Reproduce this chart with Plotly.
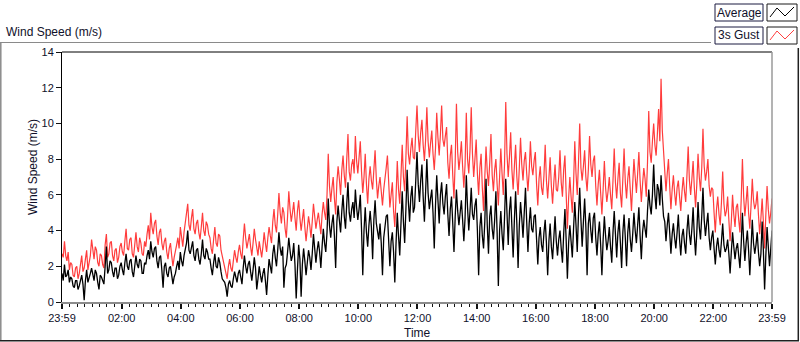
import plotly.graph_objects as go
import pandas as pd

# ---------------- data (2.5-minute samples) ----------------
start_time = "2024-01-01 23:59"
end_time = "2024-01-02 23:59"

gust_3s = [
    # hour 0
    2.7, 2.5, 3.4, 2.6, 2.3, 2.8, 1.8, 2.2, 2.1, 1.5, 1.4, 1.9, 2.0, 1.3, 1.6, 2.1, 2.6, 1.7, 1.9, 2.4, 2.9, 1.8, 2.2, 2.6,
    # hour 1
    3.5, 2.8, 2.4, 3.1, 2.9, 2.2, 2.0, 2.7, 2.6, 2.1, 1.9, 3.2, 3.8, 2.5, 2.7, 3.3, 3.4, 2.6, 2.3, 2.9, 3.0, 2.2, 2.5, 3.1,
    # hour 2
    3.3, 2.8, 2.6, 3.4, 4.1, 3.0, 2.9, 3.5, 3.6, 2.7, 2.5, 3.2, 3.9, 3.1, 2.8, 3.6, 3.3, 2.7, 2.6, 3.4, 3.1, 3.8, 4.3, 3.5,
    # hour 3
    5.0, 4.2, 3.8, 4.4, 4.6, 3.7, 3.2, 3.9, 4.1, 3.3, 2.9, 3.4, 3.6, 2.8, 2.4, 3.0, 3.3, 2.6, 2.0, 2.5, 2.8, 3.2, 3.6, 3.0,
    # hour 4
    4.2, 3.6, 3.1, 3.9, 4.4, 4.8, 5.5, 4.3, 4.0, 4.7, 5.2, 4.1, 3.8, 4.4, 4.6, 3.9, 3.5, 4.2, 5.0, 4.0, 3.7, 4.5, 4.3, 3.8,
    # hour 5
    3.6, 3.0, 2.7, 3.5, 4.2, 3.3, 3.1, 3.8, 3.7, 2.9, 2.6, 2.2, 2.0, 1.6, 1.3, 2.0, 2.4, 1.9, 1.7, 2.3, 2.9, 2.5, 2.2, 2.8,
    # hour 6
    3.2, 2.7, 2.4, 3.5, 4.4, 3.6, 3.0, 3.4, 3.8, 3.1, 2.6, 3.3, 4.1, 3.5, 3.0, 2.6, 3.4, 2.9, 2.5, 3.1, 3.9, 3.3, 2.8, 3.6,
    # hour 7
    4.2, 3.7, 3.3, 4.5, 5.2, 4.3, 3.9, 4.9, 6.1, 5.0, 4.4, 5.3, 5.0, 4.1, 3.6, 4.8, 6.2, 5.2, 4.5, 5.0, 5.6, 4.7, 4.0, 5.1,
    # hour 8
    5.7, 4.7, 4.0, 4.6, 5.2, 4.2, 3.4, 4.1, 4.8, 4.3, 3.6, 4.5, 5.5, 4.8, 4.1, 4.6, 5.0, 4.4, 3.8, 4.9, 5.6, 5.0, 4.6, 6.0,
    # hour 9
    8.3, 6.5, 5.6, 6.4, 7.0, 5.8, 4.9, 6.7, 7.6, 6.9, 6.0, 7.4, 8.2, 7.1, 6.4, 8.0, 9.4, 7.3, 6.8, 7.7, 8.0, 7.2, 9.3, 7.9,
    # hour 10
    7.2, 8.1, 9.0, 7.3, 6.1, 7.0, 8.3, 6.6, 5.5, 6.9, 7.6, 6.8, 6.3, 7.4, 8.5, 6.9, 5.8, 6.5, 7.0, 6.2, 5.4, 6.3, 6.8, 7.5,
    # hour 11
    8.2, 6.4, 5.3, 6.0, 6.7, 5.1, 4.2, 5.9, 7.9, 6.3, 5.5, 7.1, 8.8, 7.0, 6.2, 8.1, 10.4, 8.3, 7.7, 8.6, 9.2, 8.1, 8.0, 9.6,
    # hour 12
    11.0, 9.3, 8.4, 9.5, 10.2, 8.8, 7.9, 9.1, 10.9, 9.0, 8.1, 8.9, 9.6, 8.3, 7.4, 8.6, 10.6, 9.2, 8.2, 9.4, 11.0, 9.1, 8.7, 9.3,
    # hour 13
    9.8, 7.8, 6.9, 8.2, 8.8, 7.1, 5.8, 7.9, 11.1, 8.4, 7.4, 8.1, 9.0, 7.6, 6.4, 7.7, 10.6, 8.0, 7.2, 8.5, 10.9, 8.3, 7.0, 8.0,
    # hour 14
    9.1, 7.2, 6.0, 7.5, 8.3, 6.4, 5.1, 7.0, 8.7, 7.3, 6.5, 7.8, 9.4, 7.1, 6.2, 7.4, 8.0, 6.6, 5.4, 7.0, 8.6, 7.2, 6.0, 7.7,
    # hour 15
    11.2, 8.3, 7.0, 8.1, 9.5, 7.4, 6.3, 7.6, 8.8, 7.0, 6.0, 7.5, 9.2, 7.7, 6.8, 7.9, 8.4, 7.2, 6.2, 7.3, 9.0, 7.6, 7.1, 7.9,
    # hour 16
    8.4, 6.6, 5.4, 6.9, 7.6, 6.4, 6.0, 7.1, 8.8, 6.8, 5.8, 6.9, 8.1, 6.5, 5.5, 6.7, 7.7, 6.3, 6.2, 7.0, 8.5, 6.7, 5.9, 7.4,
    # hour 17
    8.2, 6.1, 4.1, 5.8, 7.0, 5.9, 5.0, 6.6, 9.0, 7.2, 6.0, 7.8, 10.0, 7.5, 6.8, 7.6, 8.5, 7.0, 6.2, 7.4, 9.3, 7.7, 7.0, 7.9,
    # hour 18
    8.2, 6.5, 5.4, 6.6, 7.4, 6.1, 4.9, 6.3, 7.9, 6.4, 5.6, 6.2, 7.0, 6.0, 5.2, 6.8, 8.6, 6.7, 5.8, 6.9, 7.8, 6.1, 5.3, 6.9,
    # hour 19
    8.6, 6.7, 5.8, 6.9, 7.6, 6.3, 5.1, 6.6, 8.0, 7.0, 6.1, 7.2, 8.4, 6.8, 5.6, 6.6, 7.5, 6.9, 5.9, 7.8, 10.7, 8.4, 7.8, 9.0,
    # hour 20
    10.0, 8.8, 8.2, 9.4, 10.8, 9.0, 12.5, 9.6, 8.6, 7.4, 6.2, 7.2, 8.0, 6.5, 5.2, 6.3, 7.1, 6.1, 5.4, 6.4, 6.8, 5.9, 5.1, 6.2,
    # hour 21
    7.0, 6.2, 5.6, 7.1, 8.7, 6.8, 6.0, 6.9, 7.9, 6.4, 5.3, 6.6, 8.3, 7.0, 6.2, 7.5, 9.7, 7.6, 6.8, 7.3, 8.0, 6.5, 5.9, 6.4,
    # hour 22
    6.3, 5.0, 3.9, 5.2, 5.9, 4.9, 4.3, 5.6, 7.3, 5.5, 4.8, 5.1, 5.9, 4.6, 3.4, 4.5, 6.0, 4.9, 4.2, 5.3, 5.5, 4.6, 3.9, 5.7,
    # hour 23
    8.0, 5.9, 4.8, 5.6, 6.5, 5.0, 4.1, 5.4, 6.9, 5.7, 5.2, 5.5, 6.2, 4.9, 3.8, 4.7, 5.8, 4.5, 3.0, 4.9, 6.5, 5.2, 4.4, 5.0,
    5.8,
]

average = [
    # hour 0
    1.6, 1.2, 2.1, 1.4, 1.5, 1.8, 1.1, 1.4, 1.3, 0.9, 0.8, 1.2, 1.2, 0.7, 0.9, 1.3, 1.5, 1.0, 0.1, 1.2, 1.8, 1.1, 1.3, 1.6,
    # hour 1
    1.9, 1.5, 1.2, 1.8, 1.6, 1.1, 0.7, 1.5, 1.4, 1.2, 1.0, 2.0, 3.1, 1.6, 1.8, 2.3, 2.2, 1.7, 1.4, 1.9, 1.9, 1.3, 1.5, 2.0,
    # hour 2
    2.2, 1.8, 1.5, 2.2, 2.7, 2.0, 1.8, 2.3, 2.4, 1.7, 1.4, 2.0, 2.6, 2.1, 1.9, 2.4, 2.3, 1.6, 1.6, 2.2, 2.1, 2.6, 2.9, 2.4,
    # hour 3
    3.4, 2.8, 2.5, 3.0, 3.1, 2.3, 1.9, 2.5, 2.6, 1.8, 0.8, 2.0, 2.2, 1.6, 1.4, 1.9, 2.0, 1.5, 1.0, 1.4, 1.6, 2.0, 2.3, 1.8,
    # hour 4
    2.8, 2.3, 2.0, 2.6, 2.9, 3.3, 4.0, 2.9, 2.7, 3.1, 3.4, 2.6, 2.3, 2.9, 3.0, 2.4, 2.1, 2.7, 3.5, 2.6, 2.4, 3.0, 2.8, 2.4,
    # hour 5
    2.4, 1.9, 1.5, 2.2, 2.7, 2.0, 1.9, 2.5, 2.2, 1.7, 1.3, 1.2, 1.1, 0.8, 0.3, 1.0, 1.2, 0.9, 0.8, 1.3, 1.7, 1.4, 1.1, 1.6,
    # hour 6
    1.8, 1.4, 1.0, 1.9, 2.6, 2.0, 1.6, 2.1, 2.3, 1.7, 1.2, 1.8, 2.5, 1.9, 0.7, 1.3, 2.0, 1.5, 1.1, 1.6, 1.9, 1.2, 0.4, 1.5,
    # hour 7
    2.4, 2.0, 1.6, 2.7, 3.2, 2.5, 2.0, 2.9, 3.9, 3.0, 2.6, 3.1, 0.8, 1.9, 2.1, 2.8, 3.6, 2.9, 2.3, 2.6, 3.3, 2.1, 0.2, 1.8,
    # hour 8
    3.2, 2.4, 0.3, 2.1, 3.0, 2.3, 1.5, 2.2, 2.9, 2.5, 1.8, 2.7, 3.8, 3.0, 2.2, 2.9, 3.4, 2.8, 1.9, 3.1, 4.1, 3.3, 2.8, 3.9,
    # hour 9
    5.8, 4.3, 3.6, 4.4, 4.9, 3.7, 1.9, 4.5, 5.4, 4.6, 3.9, 5.1, 6.0, 4.8, 4.1, 5.5, 6.7, 5.0, 4.5, 5.2, 5.6, 4.7, 6.3, 5.3,
    # hour 10
    4.6, 5.2, 6.0, 4.1, 1.5, 4.0, 5.3, 3.9, 3.1, 4.3, 5.1, 4.2, 2.4, 4.6, 5.7, 4.4, 3.8, 3.5, 4.4, 3.3, 1.5, 3.6, 4.2, 4.8,
    # hour 11
    4.9, 3.6, 2.0, 3.4, 3.9, 2.8, 1.1, 3.3, 5.0, 3.7, 2.6, 4.4, 6.2, 4.5, 3.3, 5.2, 7.4, 5.6, 4.5, 5.9, 6.5, 5.0, 5.3, 6.8,
    # hour 12
    8.4, 6.6, 5.6, 6.8, 7.7, 5.9, 4.5, 6.2, 8.0, 6.1, 5.2, 5.8, 6.3, 5.0, 3.0, 5.4, 7.1, 5.7, 4.4, 6.0, 6.7, 5.5, 4.9, 5.9,
    # hour 13
    6.6, 4.9, 3.7, 5.2, 5.9, 4.4, 2.8, 4.8, 6.3, 5.1, 4.3, 5.0, 5.7, 4.6, 3.4, 4.7, 7.1, 5.3, 4.0, 5.1, 6.4, 4.9, 4.6, 5.4,
    # hour 14
    5.8, 4.0, 1.5, 4.2, 5.0, 3.7, 3.0, 4.5, 6.9, 4.3, 2.7, 4.8, 5.4, 4.1, 3.5, 4.6, 6.2, 3.9, 0.9, 4.0, 5.1, 3.8, 2.9, 4.7,
    # hour 15
    6.9, 5.0, 3.2, 5.1, 5.9, 4.2, 2.5, 4.6, 6.2, 4.4, 1.9, 4.3, 5.6, 4.7, 3.6, 5.0, 6.4, 4.5, 2.8, 4.4, 5.3, 4.1, 3.9, 4.8,
    # hour 16
    4.9, 3.5, 2.1, 3.6, 4.2, 3.2, 2.8, 3.9, 4.6, 3.3, 1.5, 3.4, 4.4, 3.1, 2.4, 3.6, 4.8, 3.4, 2.6, 3.5, 4.0, 3.0, 2.2, 3.8,
    # hour 17
    5.2, 3.5, 1.3, 3.3, 4.3, 3.4, 2.5, 4.1, 5.6, 4.3, 2.8, 4.9, 6.4, 4.6, 3.1, 4.5, 5.8, 4.2, 1.5, 4.4, 5.0, 4.0, 3.3, 4.7,
    # hour 18
    5.0, 3.6, 2.6, 3.8, 4.5, 3.2, 1.5, 3.5, 4.8, 3.7, 2.9, 3.4, 4.2, 3.1, 2.2, 3.9, 5.1, 3.8, 2.5, 3.9, 4.6, 3.3, 1.9, 3.9,
    # hour 19
    4.9, 3.6, 2.0, 3.9, 4.7, 3.5, 2.8, 3.8, 5.0, 4.0, 3.3, 4.3, 5.3, 3.7, 2.4, 3.9, 4.6, 4.1, 3.6, 5.1, 6.3, 5.4, 4.9, 6.0,
    # hour 20
    7.7, 6.0, 5.2, 6.6, 6.3, 5.4, 7.1, 5.8, 4.8, 4.5, 3.4, 4.3, 5.0, 3.9, 2.7, 3.8, 4.4, 3.6, 3.0, 3.9, 4.9, 3.5, 2.6, 3.7,
    # hour 21
    4.1, 3.3, 2.7, 4.0, 4.9, 3.8, 3.2, 4.1, 5.3, 3.7, 2.6, 3.9, 5.6, 4.2, 3.5, 4.8, 6.4, 4.6, 3.7, 4.4, 5.0, 3.6, 2.9, 3.6,
    # hour 22
    4.0, 3.0, 2.1, 3.1, 3.6, 2.9, 2.5, 3.4, 4.4, 3.2, 2.8, 3.0, 3.5, 2.7, 1.6, 2.8, 3.9, 3.1, 2.4, 3.0, 3.3, 2.6, 1.9, 3.2,
    # hour 23
    5.0, 3.4, 2.3, 3.3, 4.0, 2.9, 1.5, 3.0, 4.6, 3.3, 2.7, 3.2, 3.9, 2.8, 2.0, 2.7, 4.5, 2.9, 0.7, 2.6, 4.2, 3.1, 2.0, 3.0,
    4.0,
]

x_tick_times = ["2024-01-01 23:59", "2024-01-02 02:00", "2024-01-02 04:00",
                "2024-01-02 06:00", "2024-01-02 08:00", "2024-01-02 10:00",
                "2024-01-02 12:00", "2024-01-02 14:00", "2024-01-02 16:00",
                "2024-01-02 18:00", "2024-01-02 20:00", "2024-01-02 22:00",
                "2024-01-02 23:59"]
x_tick_labels = ["23:59", "02:00", "04:00", "06:00", "08:00", "10:00", "12:00",
                 "14:00", "16:00", "18:00", "20:00", "22:00", "23:59"]
y_tick_values = [0, 2, 4, 6, 8, 10, 12, 14]

# ---------------- build ----------------
t0 = pd.Timestamp(start_time)
t1 = pd.Timestamp(end_time)


def times_for(series):
    n = len(series)
    return [t0 + (t1 - t0) * i / (n - 1) for i in range(n)]


FONT = "Liberation Sans, Arial, sans-serif"
TXT = "#10102a"

fig = go.Figure()
fig.add_trace(go.Scatter(x=times_for(gust_3s), y=gust_3s, mode="lines",
                         name="3s Gust", line=dict(color="#ff3c3c", width=1.2),
                         showlegend=False))
fig.add_trace(go.Scatter(x=times_for(average), y=average, mode="lines",
                         name="Average", line=dict(color="#000000", width=1.3),
                         showlegend=False))

L, R, T, B = 62, 772, 52, 302
W, H = 800, 342


def px(x):
    return (x - L) / (R - L)


def py(y):
    return (B - y) / (B - T)


shapes = []
# plot frame: top black, right grey
shapes.append(dict(type="line", xref="paper", yref="paper", x0=0, x1=1, y0=1, y1=1,
                   line=dict(color="black", width=1)))
shapes.append(dict(type="line", xref="paper", yref="paper", x0=1, x1=1, y0=0, y1=1,
                   line=dict(color="#9a9a9a", width=1.5)))
# outer panel frame
shapes.append(dict(type="line", xref="paper", yref="paper", x0=px(0), x1=px(711),
                   y0=py(42.5), y1=py(42.5), line=dict(color="#8a8a8a", width=1)))
shapes.append(dict(type="line", xref="paper", yref="paper", x0=px(0.8), x1=px(0.8),
                   y0=py(42.5), y1=py(341), line=dict(color="#8a8a8a", width=1.5)))
shapes.append(dict(type="line", xref="paper", yref="paper", x0=px(0), x1=px(799),
                   y0=py(340.8), y1=py(340.8), line=dict(color="#202020", width=1.5)))
shapes.append(dict(type="line", xref="paper", yref="paper", x0=px(798.3), x1=px(798.3),
                   y0=py(48), y1=py(341), line=dict(color="#202020", width=1.5)))

# legend boxes
legend_rows = [("Average", "#000000", 4), ("3s Gust", "#ff4040", 27)]
annotations = []
for label, col, top in legend_rows:
    shapes.append(dict(type="rect", xref="paper", yref="paper",
                       x0=px(715), x1=px(763), y0=py(top), y1=py(top + 17),
                       line=dict(color="#1a1a40", width=1), fillcolor="white"))
    shapes.append(dict(type="rect", xref="paper", yref="paper",
                       x0=px(767), x1=px(797), y0=py(top), y1=py(top + 17),
                       line=dict(color="#1a1a1a", width=1), fillcolor="white"))
    pts = [(770, top + 13), (777, top + 4), (785, top + 12), (794, top + 3)]
    path = "M " + " L ".join(f"{px(a):.5f},{py(b):.5f}" for a, b in pts)
    shapes.append(dict(type="path", xref="paper", yref="paper", path=path,
                       line=dict(color=col, width=1)))
    annotations.append(dict(text=label, xref="paper", yref="paper",
                            x=px(739), y=py(top + 8.5), xanchor="center", yanchor="middle",
                            showarrow=False, font=dict(family=FONT, size=12, color=TXT)))

annotations.append(dict(text="Wind Speed (m/s)", xref="paper", yref="paper",
                        x=px(4), y=py(32), xanchor="left", yanchor="middle",
                        showarrow=False, font=dict(family=FONT, size=12, color=TXT)))
annotations.append(dict(text="Wind Speed (m/s)", xref="paper", yref="paper",
                        x=px(33), y=py(167), xanchor="center", yanchor="middle",
                        textangle=-90, showarrow=False,
                        font=dict(family=FONT, size=12, color=TXT)))
annotations.append(dict(text="Time", xref="paper", yref="paper",
                        x=px(417), y=py(333), xanchor="center", yanchor="middle",
                        showarrow=False, font=dict(family=FONT, size=12, color=TXT)))

fig.update_layout(
    width=W, height=H,
    margin=dict(l=L, r=W - R, t=T, b=H - B, pad=0),
    paper_bgcolor="white", plot_bgcolor="white",
    shapes=shapes, annotations=annotations,
    showlegend=False,
    xaxis=dict(
        type="date", range=[t0, t1],
        tickmode="array", tickvals=[pd.Timestamp(v) for v in x_tick_times],
        ticktext=x_tick_labels,
        ticks="outside", ticklen=5, tickwidth=2, tickcolor="#111",
        minor=dict(ticks="outside", ticklen=3, tickwidth=1, tickcolor="#111",
                   dtick=15 * 60 * 1000, tick0="2024-01-02 00:00", showgrid=False),
        showgrid=False, zeroline=False,
        showline=True, linecolor="#8c8c8c", linewidth=2,
        tickfont=dict(family=FONT, size=11, color=TXT),
    ),
    yaxis=dict(
        range=[0, 14], tickmode="array", tickvals=y_tick_values,
        ticks="outside", ticklen=5, tickwidth=1, tickcolor="#111",
        showgrid=False, zeroline=False,
        showline=True, linecolor="black", linewidth=1,
        tickfont=dict(family=FONT, size=11, color=TXT),
    ),
)

fig.write_html(
    "out.html",
    config={"displayModeBar": False},
    post_script="document.body.style.margin='0';document.body.style.padding='0';"
                "document.documentElement.style.overflow='hidden';",
)
